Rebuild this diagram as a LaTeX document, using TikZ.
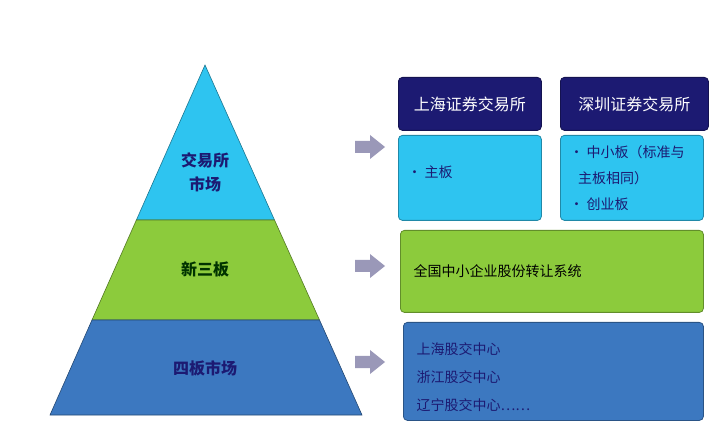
\documentclass[tikz,border=0pt]{standalone}
\usepackage{fontspec}
\setmainfont{Noto Sans CJK SC}
\definecolor{navy}{HTML}{1C1A72}
\definecolor{lblue}{HTML}{2EC4F0}
\definecolor{lgreen}{HTML}{8CCB3C}
\definecolor{mblue}{HTML}{3C78C0}
\definecolor{arr}{HTML}{9A98B8}
\tikzset{
 box/.style={draw=#1!70!black, line width=0.8pt, rounded corners=4pt, anchor=north west, inner sep=0pt},
 head/.style={box=navy, fill=navy, text=white, font=\fontsize{16}{18}\selectfont, align=center},
 lab/.style={font=\bfseries\fontsize{16}{24}\selectfont, align=center},
 itm/.style={font=\fontsize{14}{21}\selectfont, anchor=west, align=left},
 blk/.pic={\fill[arr] (-15,-6) -- (0,-6) -- (0,-12) -- (15,0) -- (0,12) -- (0,6) -- (-15,6) -- cycle;}
}
\begin{document}
\begin{tikzpicture}[x=1pt,y=-1pt]
\useasboundingbox (0,0) rectangle (715,438);
\coordinate (ap) at (205,65);
\coordinate (bl) at (50,415);
\coordinate (br) at (362,415);
\coordinate (l1) at (136.4,220); \coordinate (r1) at (274.5,220);
\coordinate (l2) at (92,320); \coordinate (r2) at (319.5,320);
\fill[lblue, draw=lblue!60!black, line width=0.6pt] (ap) -- (r1) -- (l1) -- cycle;
\fill[lgreen, draw=lgreen!60!black, line width=0.6pt] (l1) -- (r1) -- (r2) -- (l2) -- cycle;
\fill[mblue, draw=mblue!60!black, line width=0.6pt] (l2) -- (r2) -- (br) -- (bl) -- cycle;
\node[lab, text=navy] (t1) at (205,172) {交易所\\市场};
\node[lab, text=black!80!green] (t2) at (205,269) {新三板};
\node[lab, text=navy] (t3) at (205,368) {四板市场};
\pic at (370,147) {blk};
\pic at (370,266) {blk};
\pic at (370,362) {blk};
\node[head, minimum width=143pt, minimum height=53pt] (sh) at (398,77) {上海证券交易所};
\node[head, minimum width=148pt, minimum height=53pt] (sz) at (560,77) {深圳证券交易所};
\node[box=lblue, fill=lblue, minimum width=143pt, minimum height=85pt] (shb) at (398,135) {};
\node[box=lblue, fill=lblue, minimum width=143pt, minimum height=85pt] (szb) at (560,135) {};
\node[itm, text=navy] (i1) at (404,172) {\textbullet\ 主板};
\node[itm, text=navy, font=\fontsize{14}{26}\selectfont] (i2) at (566,178) {\textbullet\ 中小板（标准与\\\ \ \,主板相同）\\\textbullet\ 创业板};
\node[box=lgreen, fill=lgreen, minimum width=303pt, minimum height=82pt] (g) at (400,230) {};
\node[itm, text=black] (gt) at (410,271) {全国中小企业股份转让系统};
\node[box=mblue, fill=mblue, minimum width=300pt, minimum height=98pt] (b) at (403,322) {};
\node[itm, text=navy, font=\fontsize{14}{28}\selectfont] (bt) at (413,377) {上海股交中心\\浙江股交中心\\辽宁股交中心……};
\end{tikzpicture}
\end{document}
